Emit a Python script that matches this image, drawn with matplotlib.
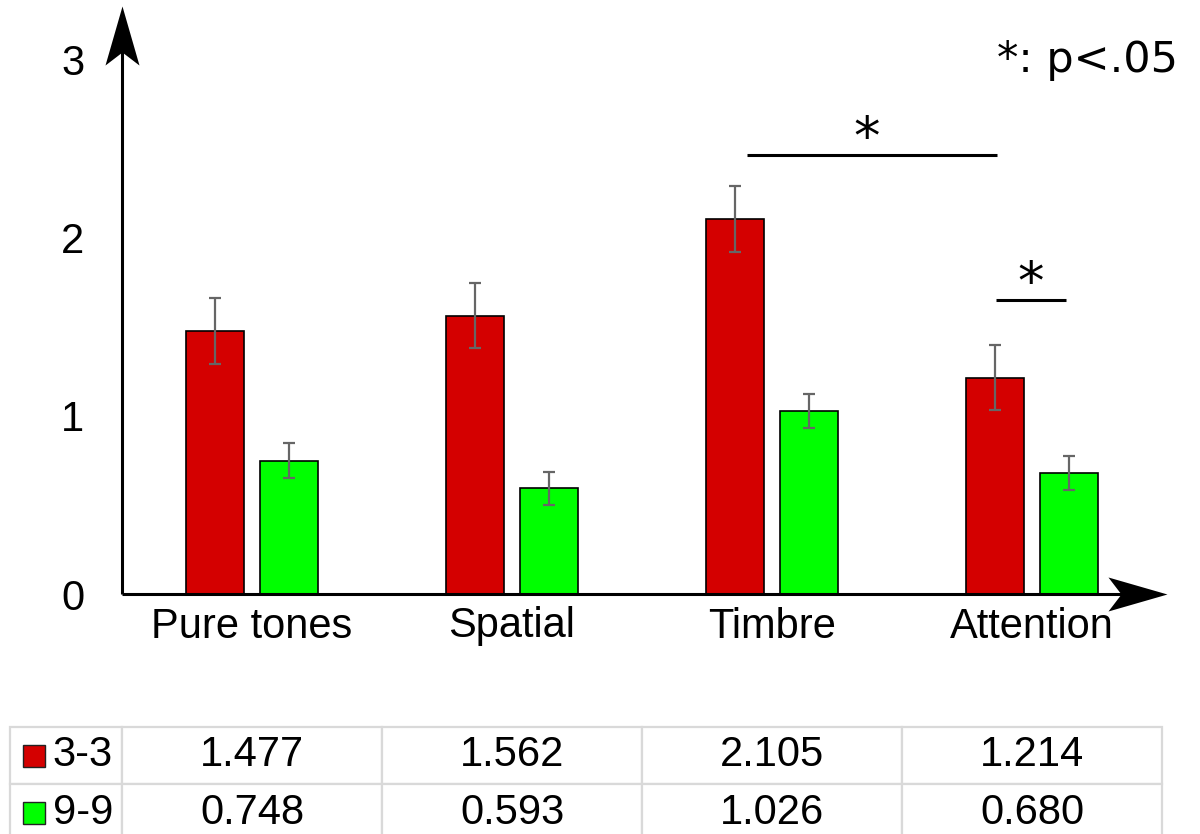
"""
Grouped bar chart (3-3 vs 9-9) with arrow axes, significance bars and a value table.
"""

import numpy as np
import matplotlib
matplotlib.use("Agg")
import matplotlib.pyplot as plt
from matplotlib.path import Path

plt.rcParams["font.family"] = ["Liberation Sans", "DejaVu Sans"]

# ─── Data ─────────────────────────────────────────────────────────────────
categories = ["Pure tones", "Spatial", "Timbre", "Attention"]
series_names = ["3-3", "9-9"]
vals_33 = [1.477, 1.562, 2.105, 1.214]
vals_99 = [0.748, 0.593, 1.026, 0.680]
err_33 = [0.185, 0.185, 0.185, 0.183]
err_99 = [0.098, 0.093, 0.095, 0.095]
y_ticks = [0, 1, 2, 3]

# significance brackets: (x start, x end, height, star x)
sig_bars = [(1.905, 2.865, 2.465, 2.362), (2.862, 3.131, 1.649, 2.993)]

RED = "#d40000"
GREEN = "#00ff00"

# ─── Figure / axes ────────────────────────────────────────────────────────
W, H = 1200, 834
fig = plt.figure(figsize=(W / 100, H / 100), dpi=100)
ax = fig.add_axes([122 / W, (H - 594) / H, (1167 - 122) / W, (594 - 6) / H])
ax.set_xlim(-0.5, 3.519)
ax.set_ylim(0, 3.298)
for s in ax.spines.values():
    s.set_visible(False)

x = np.arange(len(categories))
bw = 0.223
off = 0.1423
ax.bar(x - off, vals_33, bw, color=RED, edgecolor="black", lw=1.2, zorder=2)
ax.bar(x + off, vals_99, bw, color=GREEN, edgecolor="black", lw=1.2, zorder=2)
ax.errorbar(x - off, vals_33, yerr=err_33, fmt="none", ecolor="#666666",
            elinewidth=1.6, capsize=4.3, capthick=1.6, zorder=3)
ax.errorbar(x + off, vals_99, yerr=err_99, fmt="none", ecolor="#666666",
            elinewidth=1.6, capsize=4.3, capthick=1.6, zorder=3)

# ─── Arrow axes ───────────────────────────────────────────────────────────
ax.plot([-0.5, -0.5], [0, 3.2], color="black", lw=2.2, clip_on=False,
        solid_capstyle="butt", zorder=4)
ax.plot([-0.5, 3.4], [0, 0], color="black", lw=2.2, clip_on=False,
        solid_capstyle="butt", zorder=4)
up_head = Path([(0, 0), (-17, -59), (0, -46), (17, -59), (0, 0)],
               [Path.MOVETO, Path.LINETO, Path.LINETO, Path.LINETO, Path.CLOSEPOLY])
right_head = Path([(0, 0), (-59, 17), (-46, 0), (-59, -17), (0, 0)],
                  [Path.MOVETO, Path.LINETO, Path.LINETO, Path.LINETO, Path.CLOSEPOLY])
ax.plot([-0.5], [3.298], marker=up_head, ms=85, color="black",
        mew=0, clip_on=False, zorder=5)
ax.plot([3.519], [0], marker=right_head, ms=85, color="black",
        mew=0, clip_on=False, zorder=5)

# ─── Ticks ────────────────────────────────────────────────────────────────
ax.set_yticks(y_ticks)
ax.set_yticklabels([str(t) for t in y_ticks])
ax.set_xticks(x)
ax.set_xticklabels(categories)
ax.tick_params(axis="y", length=0, pad=27, labelsize=30)
ax.tick_params(axis="x", length=0, pad=9, labelsize=30)

# ─── Significance ─────────────────────────────────────────────────────────
for x0, x1, yy, xs in sig_bars:
    ax.plot([x0, x1], [yy, yy], color="black", lw=2.2, solid_capstyle="butt",
            clip_on=False, zorder=4)
    ax.text(xs, yy + 0.005, "*", ha="center", va="baseline",
            fontsize=38, family="DejaVu Sans")

fig.text(1178 / W, 1 - 60 / H, "*: p<.05", ha="right", va="center",
         fontsize=31, family="DejaVu Sans")

# ─── Table ────────────────────────────────────────────────────────────────
row_h = 57
tx0, tx1, ty0 = 10, 1162, 727
tax = fig.add_axes([tx0 / W, (H - ty0 - 2 * row_h) / H, (tx1 - tx0) / W, 2 * row_h / H])
tax.axis("off")
cells = [[name] + [f"{v:.3f}" for v in vals]
         for name, vals in zip(series_names, [vals_33, vals_99])]
col_w = [112] + [260] * len(categories)
col_w = [c / sum(col_w) for c in col_w]
tbl = tax.table(cellText=cells, colWidths=col_w, cellLoc="center",
                bbox=[0, 0, 1, 1])
tbl.auto_set_font_size(False)
for (r, c), cell in tbl.get_celld().items():
    cell.set_edgecolor("#d9d9d9")
    cell.set_linewidth(1.6)
    cell.get_text().set_fontsize(30)
    if c == 0:
        cell.get_text().set_ha("right")
        cell._loc = "right"
        cell.PAD = 0.08

for i, col in enumerate([RED, GREEN]):
    tax.plot([(34 - tx0) / (tx1 - tx0)], [1 - (i + 0.5) / 2], marker="s",
             ms=15.5, color=col, mec="#222222", mew=1.0,
             transform=tax.transAxes, clip_on=False)

fig.savefig("out.png", dpi=100)
